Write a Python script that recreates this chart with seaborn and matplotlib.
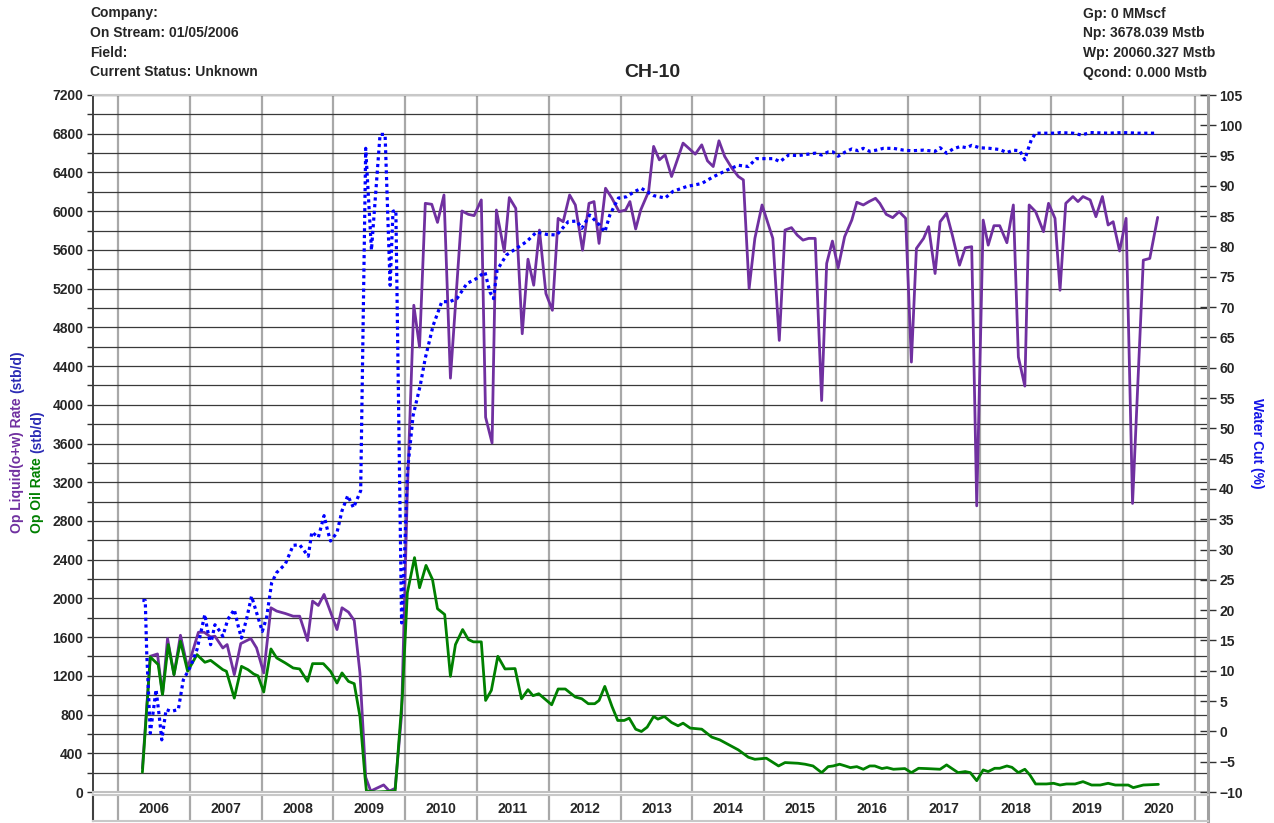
import matplotlib
matplotlib.use("Agg")
import matplotlib.pyplot as plt
from matplotlib.ticker import MultipleLocator
import seaborn as sns

# ---------------- data ----------------
# liquid rate (oil + water), stb/d
liquid_t = [2006.34, 2006.45, 2006.55, 2006.62, 2006.69, 2006.78, 2006.87, 2006.97,
            2007.12, 2007.20, 2007.29, 2007.35, 2007.46, 2007.52, 2007.62, 2007.71,
            2007.85, 2007.93, 2008.03, 2008.13, 2008.21, 2008.33, 2008.44, 2008.53,
            2008.64, 2008.71, 2008.79, 2008.87, 2008.96, 2009.05, 2009.12, 2009.21,
            2009.29, 2009.37, 2009.45, 2009.52, 2009.70, 2009.78, 2009.86, 2009.95,
            2010.03, 2010.12, 2010.20, 2010.28, 2010.37, 2010.45, 2010.54, 2010.63,
            2010.79, 2010.88, 2010.96, 2011.06, 2011.12, 2011.21, 2011.27, 2011.38,
            2011.45, 2011.54, 2011.63, 2011.71, 2011.79, 2011.87, 2011.96, 2012.05,
            2012.13, 2012.20, 2012.29, 2012.37, 2012.47, 2012.56, 2012.63, 2012.70,
            2012.79, 2012.88, 2012.98, 2013.07, 2013.13, 2013.21, 2013.28, 2013.39,
            2013.46, 2013.54, 2013.62, 2013.71, 2013.87, 2014.04, 2014.13, 2014.21,
            2014.29, 2014.37, 2014.45, 2014.55, 2014.64, 2014.71, 2014.79, 2014.87,
            2014.97, 2015.12, 2015.21, 2015.29, 2015.38, 2015.46, 2015.54, 2015.62,
            2015.71, 2015.80, 2015.87, 2015.95, 2016.03, 2016.12, 2016.22, 2016.29,
            2016.38, 2016.46, 2016.55, 2016.61, 2016.70, 2016.79, 2016.88, 2016.97,
            2017.05, 2017.12, 2017.22, 2017.29, 2017.38, 2017.45, 2017.54, 2017.62,
            2017.72, 2017.80, 2017.89, 2017.96, 2018.05, 2018.12, 2018.20, 2018.28,
            2018.38, 2018.47, 2018.54, 2018.63, 2018.69, 2018.78, 2018.89, 2018.96,
            2019.05, 2019.12, 2019.20, 2019.30, 2019.37, 2019.44, 2019.54, 2019.62,
            2019.71, 2019.79, 2019.86, 2019.95, 2020.04, 2020.13, 2020.28, 2020.37,
            2020.48]
liquid_rate = [245, 1402, 1426, 1005, 1585, 1212, 1619, 1281,
               1650, 1650, 1602, 1609, 1488, 1523, 1212, 1533,
               1585, 1488, 1230, 1903, 1869, 1844, 1816, 1816,
               1564, 1972, 1927, 2041, 1858, 1678, 1903, 1858,
               1772, 1230, 152, 10, 73, 10, 38, 800,
               3100, 5028, 4597, 6081, 6071, 5884, 6167, 4275,
               6002, 5967, 5954, 6116, 3871, 3605, 6012, 5581,
               6140, 6029, 4734, 5504, 5235, 5805, 5149, 4976,
               5926, 5891, 6167, 6064, 5597, 6081, 6099, 5667,
               6237, 6133, 5995, 6012, 6099, 5816, 6012, 6202,
               6669, 6530, 6582, 6358, 6703, 6589, 6685, 6520,
               6461, 6727, 6565, 6444, 6358, 6323, 5201, 5719,
               6064, 5719, 4665, 5805, 5830, 5753, 5701, 5719,
               5719, 4044, 5460, 5691, 5415, 5736, 5908, 6092,
               6064, 6099, 6133, 6081, 5967, 5933, 5995, 5926,
               4441, 5615, 5719, 5840, 5356, 5891, 5978, 5753,
               5442, 5622, 5633, 2956, 5908, 5649, 5850, 5850,
               5674, 6064, 4493, 4193, 6064, 5995, 5788, 6081,
               5926, 5183, 6081, 6151, 6099, 6151, 6116, 5943,
               6151, 5857, 5891, 5588, 5926, 2981, 5494, 5512,
               5936]

# oil rate, stb/d
oil_t = [2006.34, 2006.45, 2006.56, 2006.62, 2006.70, 2006.78, 2006.87, 2006.97,
         2007.10, 2007.21, 2007.29, 2007.46, 2007.51, 2007.62, 2007.72, 2007.81,
         2007.89, 2007.95, 2008.03, 2008.13, 2008.21, 2008.33, 2008.44, 2008.53,
         2008.64, 2008.71, 2008.86, 2008.96, 2009.05, 2009.12, 2009.21, 2009.29,
         2009.37, 2009.44, 2009.46, 2009.60, 2009.86, 2009.96, 2010.03, 2010.13,
         2010.20, 2010.29, 2010.38, 2010.45, 2010.55, 2010.63, 2010.70, 2010.80,
         2010.88, 2010.95, 2011.06, 2011.12, 2011.20, 2011.29, 2011.39, 2011.53,
         2011.62, 2011.71, 2011.78, 2011.86, 2012.04, 2012.13, 2012.23, 2012.37,
         2012.46, 2012.55, 2012.64, 2012.70, 2012.78, 2012.88, 2012.96, 2013.05,
         2013.12, 2013.21, 2013.29, 2013.37, 2013.46, 2013.52, 2013.61, 2013.71,
         2013.80, 2013.87, 2013.97, 2014.13, 2014.27, 2014.38, 2014.64, 2014.78,
         2014.87, 2015.03, 2015.20, 2015.29, 2015.47, 2015.57, 2015.68, 2015.80,
         2015.89, 2015.96, 2016.05, 2016.13, 2016.20, 2016.29, 2016.38, 2016.47,
         2016.54, 2016.64, 2016.71, 2016.80, 2016.96, 2017.05, 2017.15, 2017.26,
         2017.45, 2017.54, 2017.61, 2017.70, 2017.80, 2017.87, 2017.96, 2018.05,
         2018.12, 2018.21, 2018.28, 2018.38, 2018.45, 2018.54, 2018.63, 2018.70,
         2018.78, 2018.93, 2019.03, 2019.12, 2019.21, 2019.33, 2019.44, 2019.56,
         2019.68, 2019.79, 2019.89, 2020.07, 2020.14, 2020.28, 2020.49]
oil_rate = [204, 1395, 1316, 1005, 1523, 1212, 1557, 1247,
            1419, 1340, 1360, 1264, 1247, 970, 1298, 1264,
            1219, 1200, 1033, 1478, 1385, 1333, 1281, 1271,
            1143, 1326, 1326, 1247, 1126, 1230, 1143, 1119,
            780, 159, 10, 0, 10, 987, 2058, 2421,
            2110, 2341, 2196, 1893, 1834, 1195, 1523, 1678,
            1575, 1551, 1551, 946, 1050, 1402, 1271, 1275,
            963, 1057, 995, 1015, 901, 1064, 1064, 981,
            963, 912, 912, 946, 1091, 884, 739, 739,
            763, 649, 625, 670, 780, 753, 780, 718,
            684, 711, 660, 649, 567, 539, 435, 359,
            338, 349, 269, 304, 297, 287, 269, 200,
            262, 269, 287, 269, 252, 262, 235, 269,
            269, 242, 252, 235, 242, 200, 245, 242,
            235, 280, 245, 200, 211, 200, 117, 228,
            211, 245, 245, 269, 255, 200, 235, 176,
            83, 83, 90, 72, 83, 83, 107, 72,
            72, 90, 72, 72, 45, 72, 79]

# water cut, %
wcut_t = [2006.34, 2006.38, 2006.40, 2006.45, 2006.50, 2006.53, 2006.57, 2006.61,
          2006.67, 2006.74, 2006.84, 2006.91, 2007.01, 2007.10, 2007.21, 2007.24,
          2007.29, 2007.35, 2007.42, 2007.46, 2007.53, 2007.62, 2007.68, 2007.72,
          2007.79, 2007.86, 2007.93, 2008.01, 2008.07, 2008.14, 2008.21, 2008.33,
          2008.44, 2008.53, 2008.65, 2008.70, 2008.79, 2008.87, 2008.92, 2008.96,
          2009.05, 2009.12, 2009.20, 2009.28, 2009.38, 2009.45, 2009.53, 2009.65,
          2009.72, 2009.79, 2009.83, 2009.87, 2009.95, 2009.97, 2010.03, 2010.11,
          2010.21, 2010.28, 2010.39, 2010.51, 2010.62, 2010.72, 2010.86, 2010.99,
          2011.11, 2011.18, 2011.23, 2011.28, 2011.41, 2011.55, 2011.69, 2011.83,
          2011.97, 2012.11, 2012.27, 2012.39, 2012.46, 2012.57, 2012.71, 2012.78,
          2012.85, 2012.97, 2013.08, 2013.20, 2013.29, 2013.46, 2013.62, 2013.73,
          2013.92, 2014.13, 2014.29, 2014.48, 2014.64, 2014.78, 2014.89, 2015.13,
          2015.22, 2015.34, 2015.47, 2015.59, 2015.71, 2015.80, 2015.89, 2015.96,
          2016.03, 2016.13, 2016.22, 2016.31, 2016.38, 2016.47, 2016.56, 2016.66,
          2016.80, 2016.94, 2017.05, 2017.22, 2017.38, 2017.45, 2017.54, 2017.63,
          2017.73, 2017.82, 2017.89, 2018.00, 2018.14, 2018.28, 2018.38, 2018.47,
          2018.56, 2018.63, 2018.66, 2018.72, 2018.78, 2019.08, 2019.12, 2019.30,
          2019.42, 2019.54, 2019.80, 2020.00, 2020.20, 2020.47]
wcut = [21.6, 21.6, 13.0, -0.3, 4.1, 6.9, 3.0, -1.4,
        3.6, 3.3, 3.6, 8.5, 10.7, 13.5, 19.3, 17.1,
        14.3, 17.6, 16.5, 15.7, 18.5, 20.1, 17.1, 15.4,
        18.5, 22.3, 19.6, 16.5, 18.8, 24.5, 26.2, 27.6,
        30.7, 30.8, 28.9, 32.9, 32.0, 35.6, 33.1, 31.4,
        32.8, 36.4, 38.9, 36.9, 39.7, 96.2, 79.4, 98.5,
        98.5, 73.6, 85.8, 86.0, 17.9, 21.8, 42.7, 52.1,
        57.1, 61.6, 67.0, 70.9, 70.9, 71.4, 73.9, 74.7,
        75.8, 72.5, 71.4, 76.1, 78.6, 79.7, 80.8, 82.4,
        82.0, 81.9, 84.1, 84.2, 83.0, 85.2, 83.5, 82.4,
        85.2, 88.0, 88.2, 89.1, 89.6, 88.4, 88.0, 89.1,
        89.9, 90.4, 91.5, 92.6, 93.4, 93.2, 94.5, 94.5,
        94.0, 95.1, 95.0, 95.2, 95.4, 95.1, 95.6, 95.6,
        94.9, 95.6, 96.1, 95.8, 96.2, 95.7, 95.9, 96.2,
        96.2, 95.9, 95.8, 95.9, 95.7, 96.3, 95.4, 96.1,
        96.5, 96.3, 96.7, 96.3, 96.2, 96.0, 95.5, 95.9,
        95.8, 94.3, 95.5, 97.6, 98.7, 98.7, 98.8, 98.7,
        98.4, 98.8, 98.7, 98.8, 98.7, 98.7]

years = list(range(2006, 2021))

header_left = ["Company:", "On Stream: 01/05/2006", "Field:", "Current Status: Unknown"]
header_right = ["Gp: 0 MMscf", "Np: 3678.039 Mstb", "Wp: 20060.327 Mstb", "Qcond: 0.000 Mstb"]

# ---------------- style ----------------
sns.set_style("white")
plt.rcParams['font.family'] = ['Liberation Sans', 'DejaVu Sans']
plt.rcParams['font.weight'] = 'bold'
plt.rcParams['font.size'] = 10

PURPLE = '#7030a0'
GREEN = '#008000'
BLUE = '#0000ff'

W, H = 1274, 823
fig = plt.figure(figsize=(W / 100, H / 100), dpi=100)


def fx(x):
    return x / W


def fy(y):
    return 1 - y / H


ax = fig.add_axes([fx(93), fy(792), fx(1208) - fx(93), fy(95) - fy(792)])
ax2 = ax.twinx()
band = fig.add_axes([fx(93), fy(821), fx(1208) - fx(93), fy(795) - fy(821)])

x_min, x_max = 2005.652, 2021.181

# ---------------- lines ----------------
sns.lineplot(x=liquid_t, y=liquid_rate, ax=ax, color=PURPLE, lw=2.0,
             sort=False, estimator=None)
sns.lineplot(x=oil_t, y=oil_rate, ax=ax, color=GREEN, lw=2.0,
             sort=False, estimator=None)
sns.lineplot(x=wcut_t, y=wcut, ax=ax2, color=BLUE, lw=2.3,
             linestyle=(0, (1, 1.1)), sort=False, estimator=None)

# ---------------- axes ----------------
ax.set_xlim(x_min, x_max)
ax.set_ylim(0, 7200)
ax2.set_ylim(-10, 105)
ax.set_xlabel('')
ax.set_ylabel('')
ax2.set_ylabel('')

ax.set_xticks(range(2006, 2022))
ax.tick_params(axis='x', length=0, labelbottom=False)
ax.yaxis.set_major_locator(MultipleLocator(400))
ax.yaxis.set_minor_locator(MultipleLocator(200))
ax.tick_params(axis='y', which='both', left=True, length=4, width=1,
               color='#303030', pad=3, labelsize=10)
ax.set_axisbelow(True)
ax.grid(axis='y', which='both', color='#3a3a3a', lw=0.9)
ax.grid(axis='x', which='major', color='#a8a8a8', lw=1.6)

ax2.set_yticks(range(-10, 106, 5))
ax2.tick_params(axis='y', right=True, direction='inout', length=12, width=1,
                color='#303030', pad=2, labelsize=10)

for name, sp in ax.spines.items():
    sp.set_visible(name in ('left', 'top', 'bottom'))
ax.spines['left'].set_color('#404040')
ax.spines['left'].set_linewidth(1.4)
ax.spines['top'].set_color('#c8c8c8')
ax.spines['top'].set_linewidth(1.5)
ax.spines['bottom'].set_color('#c0c0c0')
ax.spines['bottom'].set_linewidth(1.5)
for name, sp in ax2.spines.items():
    sp.set_visible(name == 'right')
ax2.spines['right'].set_color('#a0a0a0')
ax2.spines['right'].set_linewidth(2.2)

# year band under the plot
band.set_xlim(x_min, x_max)
band.set_ylim(0, 1)
band.set_xticks([])
band.set_yticks([])
for yr in range(2006, 2022):
    band.axvline(yr, color='#a8a8a8', lw=1.6)
for yr in years:
    band.text(yr + 0.5, 0.45, str(yr), ha='center', va='center', fontsize=10)
for name, sp in band.spines.items():
    sp.set_color('#c8c8c8')
    sp.set_linewidth(1.5)
band.spines['left'].set_color('#404040')
band.spines['right'].set_color('#a0a0a0')
band.spines['right'].set_linewidth(2.2)

# ---------------- texts ----------------
for i, s in enumerate(header_left):
    fig.text(fx(90), fy(17.5 + 19.6 * i), s, ha='left', va='baseline', fontsize=10)
for i, s in enumerate(header_right):
    fig.text(fx(1083), fy(18 + 19.5 * i), s, ha='left', va='baseline', fontsize=10)
fig.text(fx(652), fy(77), 'CH-10', ha='center', va='baseline', fontsize=14)

t1 = fig.text(fx(17), fy(533), 'Op Liquid(o+w) Rate', rotation=90,
              color=PURPLE, ha='center', va='bottom', fontsize=10)
ax.annotate('(stb/d)', xy=(0.5, 1), xycoords=t1, xytext=(0, 3),
            textcoords='offset points', rotation=90, color='#2b2bb5',
            ha='center', va='bottom', fontsize=10, annotation_clip=False)
t2 = fig.text(fx(37), fy(533), 'Op Oil Rate', rotation=90,
              color=GREEN, ha='center', va='bottom', fontsize=10)
ax.annotate('(stb/d)', xy=(0.5, 1), xycoords=t2, xytext=(0, 3),
            textcoords='offset points', rotation=90, color='#2b2bb5',
            ha='center', va='bottom', fontsize=10, annotation_clip=False)
fig.text(fx(1257), fy(443), 'Water Cut (%)', rotation=270, color='#1414e6',
         ha='center', va='center', fontsize=10)

fig.savefig('out.png', dpi=100)
